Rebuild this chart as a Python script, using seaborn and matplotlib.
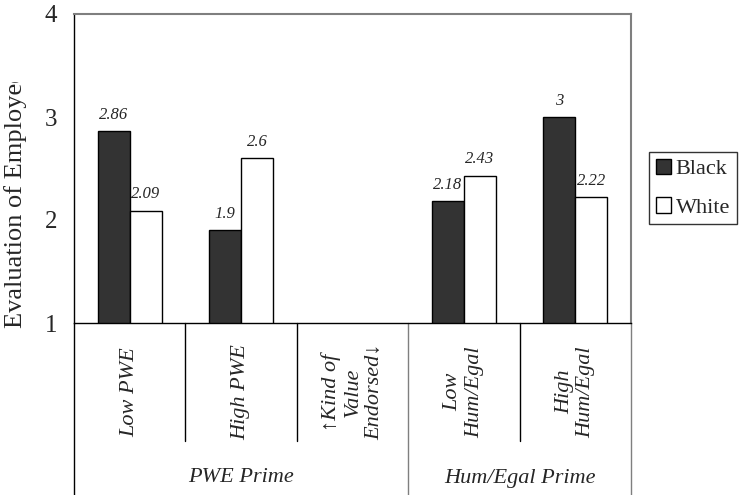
import matplotlib
matplotlib.use("Agg")
import matplotlib.pyplot as plt
import numpy as np
import pandas as pd
import seaborn as sns
from matplotlib.transforms import Bbox, TransformedBbox

# %%
categories = ["Low PWE", "High PWE", "↑Kind of\nValue\nEndorsed↓", "Low\nHum/Egal", "High\nHum/Egal"]
black_vals = [2.86, 1.9, np.nan, 2.18, 3.0]
white_vals = [2.09, 2.6, np.nan, 2.43, 2.22]
races = ["Black", "White"]
groups = ["PWE Prime", "Hum/Egal Prime"]
yticks = [1, 2, 3, 4]

df = pd.DataFrame({
    "category": categories * 2,
    "race": ["Black"] * len(categories) + ["White"] * len(categories),
    "value": black_vals + white_vals,
}).dropna()

# %%
sns.set_style("white")
plt.rcParams["font.family"] = ["Liberation Serif", "DejaVu Serif"]

W, H = 743, 495
fig = plt.figure(figsize=(W / 100, H / 100), dpi=100)
x0, x1, ytop, ybase = 74, 631, 14, 323
ax = fig.add_axes([x0 / W, 1 - ybase / H, (x1 - x0) / W, (ybase - ytop) / H])

sns.barplot(data=df, x="category", y="value", hue="race", order=categories, hue_order=races,
            palette={"Black": "#333333", "White": "white"}, edgecolor="black", linewidth=1.0,
            width=0.575, gap=0, errorbar=None, ax=ax)

ax.set_xlim(-0.5, len(categories) - 0.5)
ax.set_ylim(1, 4)
ax.set_yticks(yticks)
ax.set_yticklabels([str(t) for t in yticks], fontsize=18)
ax.tick_params(axis="y", length=0, pad=12)
ax.set_xticks([])
ax.set_xlabel("")
ax.set_ylabel("")

for side in ["top", "right"]:
    ax.spines[side].set_color("#7f7f7f")
    ax.spines[side].set_linewidth(1.5)
for side in ["left", "bottom"]:
    ax.spines[side].set_color("black")
    ax.spines[side].set_linewidth(1.0)

for cont in ax.containers:
    ax.bar_label(cont, fmt="%g", padding=6, fontsize=12, fontstyle="italic")

# table below the axis
trans = ax.get_xaxis_transform()
def frac(ypix):
    return (ybase - ypix) / (ybase - ytop)

for b, (col, bottom) in zip(np.arange(-0.5, len(categories)),
                            [("black", 495), ("black", 441), ("black", 441),
                             ("#7f7f7f", 495), ("black", 441), ("#7f7f7f", 495)]):
    ax.plot([b, b], [0, frac(bottom)], color=col, lw=1.0, transform=trans, clip_on=False)

for i, cat in enumerate(categories):
    ax.text(i, frac(392), cat, rotation=90, ha="center", va="center", multialignment="center",
            fontsize=16, fontstyle="italic", transform=trans, clip_on=False)

ax.text(1.0, frac(478), groups[0], ha="center", va="center", fontsize=16, fontstyle="italic",
        transform=trans, clip_on=False)
ax.text(3.5, frac(478), groups[1], ha="center", va="center", fontsize=16, fontstyle="italic",
        transform=trans, clip_on=False)

# y label, cut off at the top as in the original
ylab = fig.text(16 / W, 1 - 328 / H, "Evaluation of Employee", rotation=90, ha="center", va="bottom",
                fontsize=19)
ylab.set_clip_box(TransformedBbox(Bbox([[0, 0], [1, 1 - 82 / H]]), fig.transFigure))
ylab.set_clip_on(True)

handles, labels = ax.get_legend_handles_labels()
ax.legend(handles, labels, loc="upper left", bbox_to_anchor=(649 / W, 1 - 152 / H),
          bbox_transform=fig.transFigure, frameon=True, fancybox=False, edgecolor="black",
          fontsize=16, handlelength=0.7, handleheight=0.7, handletextpad=0.2,
          borderpad=0.3, labelspacing=0.8, borderaxespad=0)
ax.get_legend().get_frame().set_linewidth(1.0)

fig.savefig("out.png", dpi=100)
